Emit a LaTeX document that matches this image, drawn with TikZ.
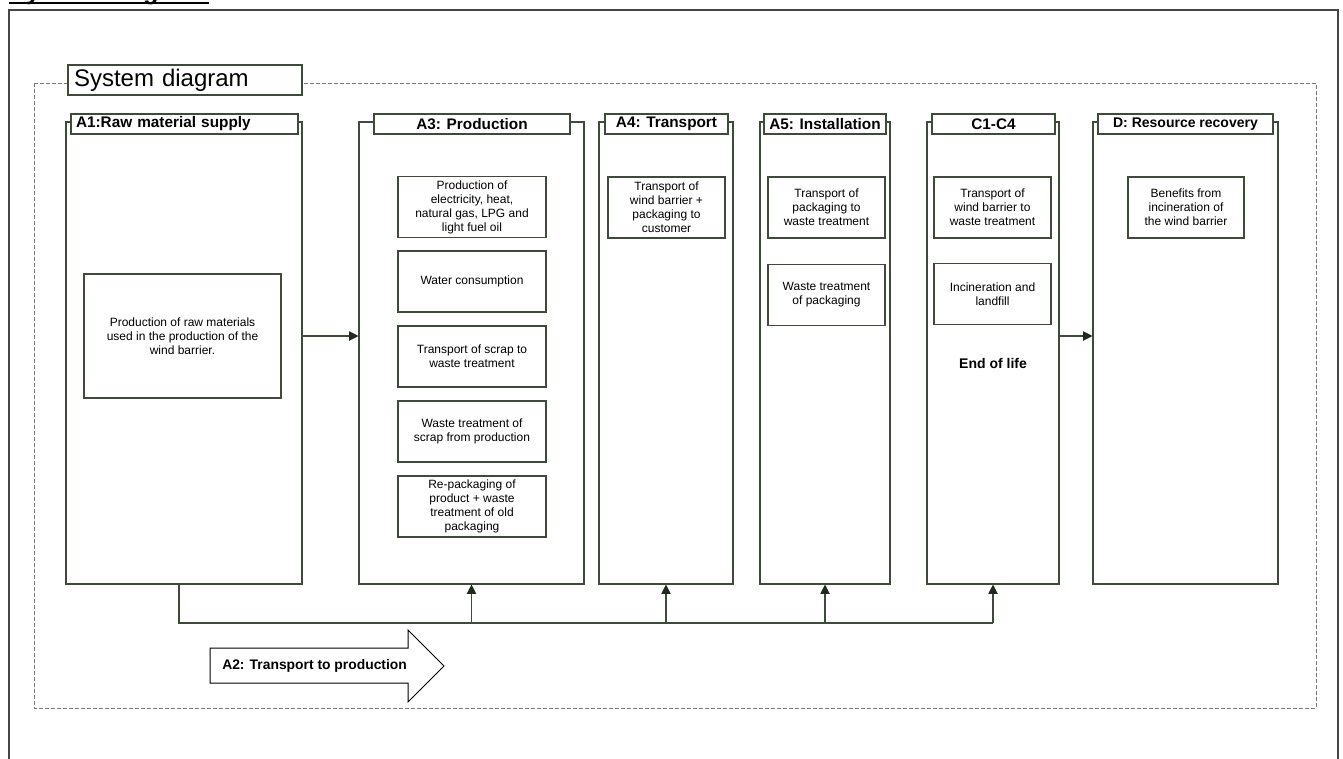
\documentclass[tikz,border=0pt]{standalone}
\usepackage{fontspec}
\setmainfont{Liberation Sans}
\usetikzlibrary{arrows.meta}

\definecolor{edge}{RGB}{62,74,58}
\definecolor{tipc}{RGB}{30,42,26}
\definecolor{boundc}{RGB}{120,120,120}
\definecolor{pagec}{RGB}{70,70,70}

\begin{document}
\begin{tikzpicture}[x=0.75pt,y=-0.75pt,
    lane/.style={draw=edge,line width=0.8pt,inner sep=0pt,minimum height=346.5pt},
    head/.style={draw=edge,line width=0.8pt,fill=white,inner sep=0pt,
        minimum height=15pt,font=\fontsize{11.5}{13}\selectfont\bfseries},
    item/.style={draw=edge,line width=0.8pt,align=center,inner sep=1pt,
        minimum width=87.75pt,minimum height=45.75pt,font=\fontsize{9}{10.5}\selectfont},
    flow/.style={draw=edge,line width=0.8pt,-{Triangle[length=7pt,width=7pt,color=tipc]}}]

\useasboundingbox (0,0) rectangle (1343,758);

% Page heading, cut at the top
\node[anchor=base west,inner sep=0pt,font=\fontsize{19}{22}\selectfont\bfseries] (pagetitle) at (9,-1) {System diagram};
\draw[black,line width=1.5pt] (9,2.5) -- (209,2.5);

% Page frame
\draw[pagec,line width=1.5pt] (9,760) -- (9,10) -- (1338,10) -- (1338,760);

% System boundary
\draw[boundc,line width=0.75pt,dash pattern=on 3pt off 1.5pt] (34,83) rectangle (1316,708);
\node[draw=edge,line width=0.8pt,fill=white,minimum height=22.5pt,text width=166.5pt,
    inner xsep=4.5pt,inner ysep=0pt,align=left,font=\fontsize{18}{20}\selectfont] (sysbox) at (185,80) {System diagram};

% Stages
\node[lane,minimum width=177pt] (a1) at (184,353) {};
\node[lane,minimum width=168.75pt] (a3) at (471.5,353) {};
\node[lane,minimum width=100.5pt] (a4) at (666,353) {};
\node[lane,minimum width=97.5pt] (a5) at (825,353) {};
\node[lane,minimum width=99pt] (c14) at (993,353) {};
\node[lane,minimum width=138.75pt] (d) at (1185.5,353) {};

% Stage headers
\node[head,text width=162.75pt,inner xsep=3.75pt,align=left] (a1head) at (184.5,124) {A1:Raw material supply};
\node[head,minimum width=147pt] (a3head) at (472,124) {A3: Production};
\node[head,minimum width=92.25pt] (a4head) at (666.5,124) {A4: Transport};
\node[head,minimum width=91.5pt] (a5head) at (825,124) {A5: Installation};
\node[head,minimum width=92.25pt] (c14head) at (993.5,124) {C1-C4};
\node[head,minimum width=131.25pt,font=\fontsize{10.5}{12}\selectfont\bfseries] (dhead) at (1185.5,124) {D: Resource recovery};

% A1
\node[item,minimum width=147.75pt,minimum height=93pt] (a1box) at (182.5,336)
    {Production of raw materials\\used in the production of the\\wind barrier.};

% A3
\node[item,minimum width=111pt] (a3boxa) at (472,207) {Production of\\electricity, heat,\\natural gas, LPG and\\light fuel oil};
\node[item,minimum width=111pt] (a3boxb) at (472,281.5) {Water consumption};
\node[item,minimum width=111pt] (a3boxc) at (472,356.5) {Transport of scrap to\\waste treatment};
\node[item,minimum width=111pt] (a3boxd) at (472,431.5) {Waste treatment of\\scrap from production};
\node[item,minimum width=111pt] (a3boxe) at (472,506.5) {Re-packaging of\\product + waste\\treatment of old\\packaging};

% A4, A5
\node[item] (a4box) at (666.5,207.5) {Transport of\\wind barrier +\\packaging to\\customer};
\node[item] (a5boxa) at (826.5,207.5) {Transport of\\packaging to\\waste treatment};
\node[item] (a5boxb) at (826.5,295) {Waste treatment\\of packaging};

% C1-C4
\node[item] (c14boxa) at (992.5,207.5) {Transport of\\wind barrier to\\waste treatment};
\node[item] (c14boxb) at (992.5,294) {Incineration and\\landfill};
\node[font=\fontsize{10.5}{12}\selectfont\bfseries] (eol) at (993,363) {End of life};

% D
\node[item,minimum width=87pt] (dbox) at (1186,207.5) {Benefits from\\incineration of\\the wind barrier};

% Flows between stages
\draw[flow] (a1box.east -| a1.east) -- (a1box.east -| a3.west);
\draw[flow] (a1box.east -| c14.east) -- (a1box.east -| d.west);

% A2 transport line
\coordinate (drop) at (179,623);
\draw[edge,line width=0.8pt] (a1.south -| drop) -- (drop) -- (drop -| c14.south);
\foreach \col in {a3,a4,a5,c14}
    \draw[flow] (drop -| \col.south) -- (\col.south);

% A2 arrow
\draw[black,line width=0.75pt,fill=white] (210,648) -- (408,648) -- (408,630) -- (444,666)
    -- (408,702) -- (408,683) -- (210,683) -- cycle;
\node[anchor=west,inner sep=0pt,font=\fontsize{10.4}{12}\selectfont\bfseries] (atwo) at (222,666) {A2: Transport to production};

\end{tikzpicture}
\end{document}
